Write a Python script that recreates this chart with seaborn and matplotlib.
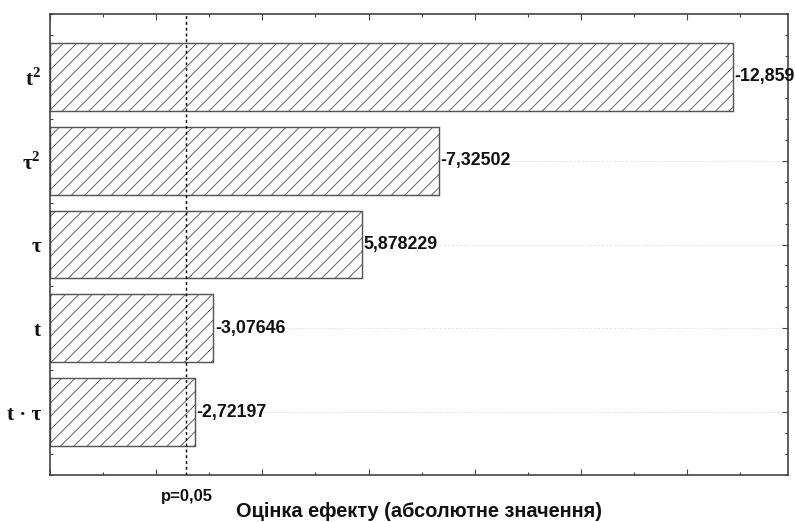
import matplotlib
matplotlib.use("Agg")
import matplotlib.pyplot as plt
import matplotlib.transforms as mtransforms
from matplotlib.ticker import MultipleLocator
import pandas as pd
import seaborn as sns

# Pareto chart of standardized effects
factors = [r"$\mathbf{t}^{\mathbf{2}}$", r"$\mathbf{τ}^{\mathbf{2}}$", "τ", "t", "t · τ"]
effects = [-12.859, -7.32502, 5.878229, -3.07646, -2.72197]
p_crit = 2.5706
p_label = "p=0,05"
x_label = "Оцінка ефекту (абсолютне значення)"

df = pd.DataFrame({"factor": factors, "effect": effects})
df["abs_effect"] = df["effect"].abs()

sns.set_style("ticks")
plt.rcParams["font.family"] = ["Liberation Sans", "DejaVu Sans"]
plt.rcParams["mathtext.fontset"] = "custom"
plt.rcParams["mathtext.bf"] = "Liberation Serif:bold"
plt.rcParams["mathtext.rm"] = "Liberation Serif"
plt.rcParams["hatch.color"] = "#333333"
plt.rcParams["hatch.linewidth"] = 0.8

dpi = 80
fig = plt.figure(figsize=(795 / dpi, 522 / dpi), dpi=dpi)
ax = fig.add_axes([50 / 795, 47 / 522, 738 / 795, 461 / 522])

sns.barplot(data=df, x="abs_effect", y="factor", orient="h", color="white",
            edgecolor="#555555", linewidth=1.3, width=0.81, hatch="//",
            ax=ax, zorder=2)

ax.set_xlim(0, 13.9)
ax.set_ylim(len(factors) - 0.25, -0.75)

# faint dotted guides at each factor
for i in range(len(factors)):
    ax.axhline(i, color="#d8d8d8", linestyle=":", linewidth=0.9, zorder=0)

# significance threshold
ax.axvline(p_crit, color="black", linestyle=(0, (2, 2)), linewidth=1.3, zorder=3)
trans = mtransforms.blended_transform_factory(ax.transData, ax.transAxes)
ax.text(p_crit, -0.03, p_label, transform=trans, ha="center", va="top",
        fontsize=15, fontweight="bold", color="#111111")

# value labels
for i, (v, a) in enumerate(zip(effects, df["abs_effect"])):
    ax.text(a + 0.03, i, str(v).replace(".", ","), ha="left", va="center",
            fontsize=16, fontweight="bold", color="#111111", zorder=4)

ax.set_ylabel("")
ax.set_xlabel(x_label, fontsize=18, fontweight="bold", labelpad=24, color="#111111")

ax.xaxis.set_major_locator(MultipleLocator(2))
ax.xaxis.set_minor_locator(MultipleLocator(1))
ax.yaxis.set_minor_locator(MultipleLocator(0.25))
ax.tick_params(axis="both", which="both", direction="in", top=True, right=True,
               color="#444444", width=1.0)
ax.tick_params(axis="both", which="major", length=5)
ax.tick_params(axis="both", which="minor", length=3)
ax.tick_params(axis="x", which="both", labelbottom=False)
ax.tick_params(axis="y", which="major", pad=8)

ax.set_yticks(range(len(factors)))
ax.set_yticklabels(factors)
for lbl in ax.get_yticklabels():
    lbl.set_fontfamily("Liberation Serif")
    lbl.set_fontweight("bold")
    lbl.set_fontsize(19)
    lbl.set_color("#111111")

for s in ax.spines.values():
    s.set_visible(True)
    s.set_color("#444444")
    s.set_linewidth(1.5)

fig.savefig("out.png", dpi=dpi, facecolor="white")
